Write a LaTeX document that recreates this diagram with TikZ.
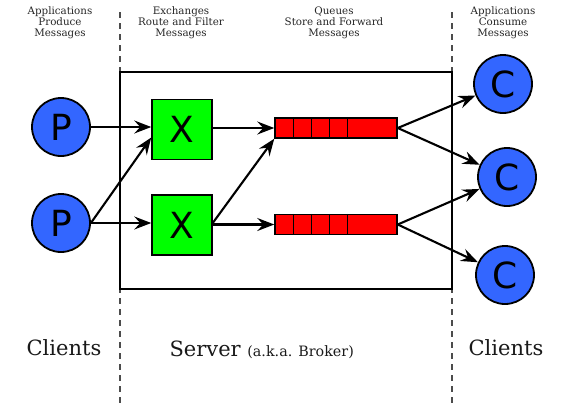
\documentclass[tikz,border=0pt]{standalone}
\usepackage{fontspec}
\setmainfont{DejaVu Serif}
\newfontfamily\letterfont{DejaVu Sans}
\usetikzlibrary{arrows.meta,calc}
\definecolor{cblue}{RGB}{51,102,255}
\definecolor{cgreen}{RGB}{0,255,0}
\definecolor{cred}{RGB}{255,0,0}
\tikzset{
  client/.style={circle,draw=black,line width=1.8pt,fill=cblue,minimum size=58pt,inner sep=0pt,font=\letterfont\fontsize{36}{36}\selectfont},
  exch/.style={rectangle,draw=black,line width=1.5pt,fill=cgreen,minimum size=60pt,inner sep=0pt,font=\letterfont\fontsize{36}{36}\selectfont},
  queue/.style={rectangle,draw=black,line width=1.5pt,fill=cred,minimum width=122pt,minimum height=20pt,inner sep=0pt},
  flow/.style={line width=2.1pt,-{Stealth[length=17pt,width=13pt,inset=6pt]}},
  divider/.style={draw=black!70,line width=1.1pt,dash pattern=on 6pt off 5pt},
  toplabel/.style={align=center,font=\fontsize{10.3}{11}\selectfont,text=black!85},
  biglabel/.style={font=\fontsize{21}{24}\selectfont,anchor=base,text=black!90}
}
\begin{document}
\begin{tikzpicture}[x=1pt,y=-1pt]
\useasboundingbox (0,0) rectangle (570,405);
% dashed separators
\coordinate (d1t) at (120,12);
\coordinate (d1b) at (120,405);
\coordinate (d2t) at (452,12);
\coordinate (d2b) at (452,405);
\draw[divider] (d1t) -- (d1b);
\draw[divider] (d2t) -- (d2b);
% server box
\node[draw=black,line width=1.8pt,minimum width=332pt,minimum height=217pt,inner sep=0pt] (server) at (286,180.5) {};
% producers
\node[client] (p1) at (61,127) {P};
\node[client] (p2) at (61,223) {P};
% exchanges
\node[exch] (x1) at (182,129.5) {X};
\node[exch] (x2) at (182,225) {X};
% queues
\node[queue] (q1) at (336,128) {};
\node[queue] (q2) at (336,224.5) {};
\foreach \q in {q1,q2}{
  \foreach \s in {19,37,55,73}{
    \draw[line width=1.3pt] ([xshift=\s pt]\q.north west) -- ([xshift=\s pt]\q.south west);
  }
}
% consumers
\node[client] (c1) at (503,84) {C};
\node[client] (c2) at (507,177) {C};
\node[client] (c3) at (505,275) {C};
% arrows
\draw[flow] (p1.east) -- (x1.west |- p1.east);
\draw[flow] (p2.east) -- ([yshift=-8pt]x1.west);
\draw[flow] (p2.east) -- (x2.west |- p2.east);
\draw[flow] (x1.east |- q1.west) -- (q1.west);
\draw[flow] ([yshift=2pt]x2.east) -- (q1.south west);
\draw[flow] (x2.east |- q2.west) -- (q2.west);
\draw[flow] (q1.east) -- (c1);
\draw[flow] (q1.east) -- (c2);
\draw[flow] (q2.east) -- (c2);
\draw[flow] (q2.east) -- (c3);
% top labels
\node[toplabel] (l1) at (60,23) {Applications\\Produce\\Messages};
\node[toplabel] (l2) at (181,23) {Exchanges\\Route and Filter\\Messages};
\node[toplabel] (l3) at (334,23) {Queues\\Store and Forward\\Messages};
\node[toplabel] (l4) at (503,23) {Applications\\Consume\\Messages};
% bottom labels
\node[biglabel] (b1) at (64,355) {Clients};
\node[biglabel,anchor=base west] (b2) at (166,356) {Server {\fontsize{14.3}{16}\selectfont (a.k.a. Broker)}};
\node[biglabel] (b3) at (506,355) {Clients};
\end{tikzpicture}
\end{document}
